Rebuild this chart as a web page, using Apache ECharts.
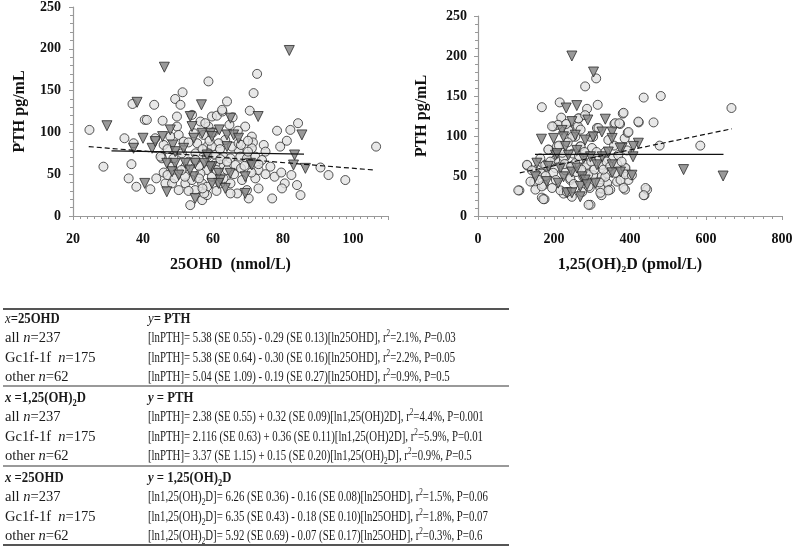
<!DOCTYPE html>
<html><head><meta charset="utf-8">
<script src="https://cdn.jsdelivr.net/npm/echarts@6/dist/echarts.min.js"></script>
<style>
html,body{margin:0;padding:0;background:#fff;}
#chart{position:absolute;left:0;top:0;width:797px;height:547px;}
#table{position:absolute;left:0;top:0;width:797px;height:547px;font-family:'Liberation Serif','Times New Roman',serif;color:#1a1a1a;pointer-events:none;}
.row{position:absolute;left:0;height:20px;line-height:20px;font-size:15px;white-space:nowrap;}
.c1{position:absolute;left:5px;transform:scaleX(0.97);transform-origin:0 50%;}
.c2{position:absolute;left:148px;transform:scaleX(0.72);transform-origin:0 50%;}
.hdr .c1{transform:scaleX(0.85);}
.hdr .c2{transform:scaleX(0.85);}
.rule{position:absolute;left:3px;width:506px;height:2px;}
sup,sub{font-size:10px;line-height:0;}
</style></head>
<body>
<div id="chart"></div>
<div id="table"></div>
<script>
// ---- Left panel: x = 25OHD (nmol/L), y = PTH (pg/mL)
const leftGc = [
[24.7,103],[28.7,59],[34.7,93],[35.9,45],[36.7,62],[37.3,87],[37,134],[38.1,35],[40.5,115],[41.1,115],[42.1,32],[43.2,133],[43.5,93],[43.8,45],[45.6,114],[45.9,85],[45.2,72],[45.9,52],[46.4,39],[49.2,140],[51.3,148],[50.7,133],[49.7,119],[49.7,107],[47.8,95],[50.2,97],[51.6,89],[48.7,69],[48.3,59],[51.1,75],[52.1,59],[54,121],[54.5,99],[56.4,113],[57.3,97],[58.7,107],[58.7,161],[59.7,119],[58.3,83],[58.3,71],[58.3,55],[48.3,39],[50.2,31],[52.1,39],[54,43],[53.5,13],[54.9,31],[56.9,19],[56.9,39],[56.4,51],[45.4,69],[45,71],
[72.6,170],[71.6,147],[64,137],[61.1,120],[62.7,125],[57.8,111],[70.5,126],[69.2,107],[65.6,118],[67.1,102],[64.7,109],[78.3,102],[82.1,103],[84.3,111],[81.1,90],[79.2,83],[74.5,85],[71.1,95],[71.4,88],[71.1,81],[67.3,79],[65.4,83],[63.5,91],[61.6,87],[59.7,83],[58.7,75],[60.7,73],[63,71],[65,69],[67.8,71],[69.7,69],[72.1,71],[74,67],[76.4,59],[77.6,47],[79.5,52],[80.5,39],[79.7,33],[82.4,49],[84,37],[85,25],[76.9,21],[90.7,58],[93,49],[97.8,43],[106.6,83],[62.1,61],[66.4,61],[73,55],[72.1,45],[73,33],[70.2,21],[66.9,27],[69.7,31],[68.3,43],[65,39],[62.1,39],[59.7,47],[58.3,35],[58.3,25],[67.3,87],
[62.6,127],[60.7,63],[62.1,68],[55,75],[53,65],[56,60],[64,55],[68,57],[70,77],[75,77],[52,47],[47,49],[57.5,27],[55.5,87],
[47,80],[49,45],[51,55],[53,88],[55,67],[56,45],[57,80],[59,90],[60,100],[61,55],[62,80],[63,45],[64,65],[66,50],[68,85],[69,60],[70,90],[71,52],[73,62],[75,50],[53,30],[57,33],[61,30],[65,27]
];
const leftOther = [
[29.7,108],[38.3,136],[37.3,81],[40,93],[40.5,39],[42.6,81],[43.5,89],[45.6,95],[46.1,178],[46.8,29],[46.8,63],[48.5,85],[49.2,77],[49.2,63],[48.3,53],[50.2,49],[51.6,81],[52.1,63],[53.5,119],[54,107],[54.5,93],[54.9,63],[54.5,47],[54.9,21],[53.4,55],[56.7,133],[56.9,99],[58.3,73],[59.7,59],[59.3,99],
[81.8,198],[72.9,119],[65,117],[61.8,103],[59.7,95],[64,97],[65.9,97],[67.3,93],[64,83],[85.4,97],[83.3,73],[83,61],[86.4,57],[59.2,59],[61.6,51],[64.9,51],[69.2,47],[70.7,63],[62.1,43],[61.6,39],[63.5,33],[69.2,27],[59.7,39],
[47.8,103],[57.5,63],[71.1,61]
];
const leftSolidX = [31, 86],   leftSolidY = [78, 74];
const leftDashX  = [24.5, 106], leftDashY  = [83, 55];

// ---- Right panel: x = 1,25(OH)2D (pmol/L), y = PTH (pg/mL)
const rightGc = [
[109,32],[130,63],[148,42],[155,58],[151,33],[168,53],[173,39],[168,136],[168,23],[175,21],[181,62],[186,83],[195,35],[199,112],[203,60],[208,87],[215,142],[219,123],[225,74],[225,28],[239,108],[243,45],[247,24],[250,78],[256,99],[263,112],[265,122],[269,87],[274,30],[282,162],[287,134],[283,60],[294,35],[296,14],[303,99],[311,172],[315,139],[313,110],[320,72],[325,49],[325,26],[327,34],[340,53],[340,41],[348,33],[355,72],[359,115],[366,43],[374,115],[381,128],[386,97],[387,60],[387,33],[394,104],[394,53],[396,45],[423,117],[436,148],[438,26],[445,33],[462,117],[478,88],[481,150],[585,88],[667,135],
[422,118],[383,129],[361,116],[372,116],[396,105],[211,114],[195,112],[264,122],[282,126],[317,110],[238,107],[248,99],[296,99],[343,95],[185,83],[164,72],[222,79],[270,87],[300,85],[335,80],[369,76],[392,82],[129,64],[142,57],[155,51],[138,43],[168,37],[177,64],[203,70],[198,54],[230,57],[243,47],[256,66],[286,64],[277,49],[303,51],[326,64],[335,49],[361,54],[375,45],[388,60],[388,52],[405,51],[217,32],[234,30],[291,37],[322,35],[343,32],[322,29],[383,35],[441,35],[436,26],[291,14],[106,32],[172,21],
[160,45],[178,50],[190,68],[205,45],[213,88],[228,65],[236,92],[245,62],[252,40],[258,55],[266,75],[272,58],[280,80],[290,52],[298,68],[306,58],[312,80],[320,42],[330,58],[338,68],[348,62],[358,88],[366,65],[378,68],[232,115],[270,108]
];
const rightOther = [
[247,200],[304,180],[232,135],[260,138],[289,120],[335,121],[167,96],[199,97],[221,107],[225,99],[247,118],[256,101],[303,99],[326,105],[353,105],[353,97],[422,91],[409,87],[379,85],[282,95],[230,87],[260,82],[204,76],[238,76],[296,74],[313,64],[353,64],[155,66],[185,62],[217,60],[247,55],[260,60],[225,49],[274,49],[405,51],[181,43],[211,41],[269,37],[282,45],[309,41],[234,29],[269,24],[247,29],[151,49],[353,54],[375,55],[541,58],[645,50],[208,78],[278,72],[327,74],[343,80],[374,85],[408,74],[287,39]
];
const rightSolidX = [150, 646], rightSolidY = [77, 77];
const rightDashX  = [110, 668], rightDashY  = [54, 109];

// ---- Axis / text
const yTicks = {min: 0, max: 250, interval: 50};
const leftXTicks = {min: 20, max: 110, interval: 20};
const rightXTicks = {min: 0, max: 800, interval: 200};
const yTitle = 'PTH pg/mL';
const leftXTitle = '25OHD  (nmol/L)';
const rightXTitle = '1,25(OH)\u2082D (pmol/L)';

// ---- Table rows: [col1, col2, header?]
const tableRows = [
 ['<i>x</i><b>=25OHD</b>', '<i>y</i><b>= PTH</b>', true],
 ['all <i>n</i>=237', '[lnPTH]= 5.38 (SE 0.55) - 0.29 (SE 0.13)[ln25OHD], r<sup>2</sup>=2.1%, <i>P</i>=0.03', false],
 ['Gc1f-1f&nbsp; <i>n</i>=175', '[lnPTH]= 5.38 (SE 0.64) - 0.30 (SE 0.16)[ln25OHD], r<sup>2</sup>=2.2%, P=0.05', false],
 ['other <i>n</i>=62', '[lnPTH]= 5.04 (SE 1.09) - 0.19 (SE 0.27)[ln25OHD], r<sup>2</sup>=0.9%, P=0.5', false],
 ['<b><i>x</i> =1,25(OH)<sub>2</sub>D</b>', '<b><i>y</i> = PTH</b>', true],
 ['all <i>n</i>=237', '[lnPTH]= 2.38 (SE 0.55) + 0.32 (SE 0.09)[ln1,25(OH)2D], r<sup>2</sup>=4.4%, P=0.001', false],
 ['Gc1f-1f&nbsp; <i>n</i>=175', '[lnPTH]= 2.116 (SE 0.63) + 0.36 (SE 0.11)[ln1,25(OH)2D], r<sup>2</sup>=5.9%, P=0.01', false],
 ['other <i>n</i>=62', '[lnPTH]= 3.37 (SE 1.15) + 0.15 (SE 0.20)[ln1,25(OH)<sub>2</sub>D], r<sup>2</sup>=0.9%, <i>P</i>=0.5', false],
 ['<b><i>x</i> =25OHD</b>', '<b><i>y</i> = 1,25(OH)<sub>2</sub>D</b>', true],
 ['all <i>n</i>=237', '[ln1,25(OH)<sub>2</sub>D]= 6.26 (SE 0.36) - 0.16 (SE 0.08)[ln25OHD], r<sup>2</sup>=1.5%, P=0.06', false],
 ['Gc1f-1f&nbsp; <i>n</i>=175', '[ln1,25(OH)<sub>2</sub>D]= 6.35 (SE 0.43) - 0.18 (SE 0.10)[ln25OHD], r<sup>2</sup>=1.8%, P=0.07', false],
 ['other <i>n</i>=62', '[ln1,25(OH)<sub>2</sub>D]= 5.92 (SE 0.69) - 0.07 (SE 0.17)[ln25OHD], r<sup>2</sup>=0.3%, P=0.6', false]
];
const rowCenters = [318,337,357,376, 397,416,436,455, 477,496,516,535];
const rules = [[309,'#555'],[386,'#999'],[466,'#999'],[545,'#555']];

(function buildTable(){
  const t = document.getElementById('table');
  let h = '';
  rules.forEach(r => { h += '<div class="rule" style="top:'+(r[0]-1)+'px;background:'+r[1]+'"></div>'; });
  tableRows.forEach((r,i) => {
    h += '<div class="row'+(r[2]?' hdr':'')+'" style="top:'+(rowCenters[i]-10)+'px"><span class="c1">'+r[0]+'</span><span class="c2">'+r[1]+'</span></div>';
  });
  t.innerHTML = h;
})();

const serif = "'Liberation Serif','Times New Roman',serif";
const axisCol = '#999';
function xAxisCfg(gi, t, name, split){
  return {gridIndex: gi, type:'value', min:t.min, max:t.max, interval:t.interval,
    name: name, nameLocation:'middle', nameGap: 41,
    nameTextStyle:{fontFamily:serif, fontWeight:'bold', fontSize:16, color:'#111'},
    axisLine:{lineStyle:{color:axisCol, width:1.2}},
    axisTick:{show:true, length:4, lineStyle:{color:axisCol}},
    minorTick:{show:true, splitNumber:split, length:3, lineStyle:{color:axisCol}},
    axisLabel:{fontFamily:serif, fontWeight:'bold', fontSize:14, color:'#111', margin:16, showMaxLabel: t.max % t.interval === 0},
    splitLine:{show:false}};
}
function yAxisCfg(gi, gap, margin){
  return {gridIndex: gi, type:'value', min:yTicks.min, max:yTicks.max, interval:yTicks.interval,
    name: yTitle, nameLocation:'middle', nameGap: gap, nameRotate: 90,
    nameTextStyle:{fontFamily:serif, fontWeight:'bold', fontSize:16, color:'#111'},
    axisLine:{show:true, lineStyle:{color:axisCol, width:1.2}},
    axisTick:{show:true, length:4, lineStyle:{color:axisCol}},
    minorTick:{show:true, splitNumber:5, length:3, lineStyle:{color:axisCol}},
    axisLabel:{fontFamily:serif, fontWeight:'bold', fontSize:14, color:'#111', margin:margin},
    splitLine:{show:false}};
}
const circleStyle = {color:'#e2e2e2', borderColor:'#2a2a2a', borderWidth:1};
const triStyle = {color:'#808080', borderColor:'#2a2a2a', borderWidth:1};
function scat(gi, data, isTri){
  return {type:'scatter', xAxisIndex:gi, yAxisIndex:gi, data:data,
    symbol: isTri ? 'triangle' : 'circle', symbolRotate: isTri ? 180 : 0,
    symbolSize: isTri ? 10 : 9, itemStyle: isTri ? triStyle : circleStyle, silent:true};
}
function line(gi, xs, ys, dashed){
  return {type:'line', xAxisIndex:gi, yAxisIndex:gi, data: xs.map((x,i)=>[x, ys[i]]),
    symbol:'none', silent:true, z:5,
    lineStyle:{color:'#111', width:1.2, type: dashed ? [5,3] : 'solid'}};
}

const chart = echarts.init(document.getElementById('chart'), null, {renderer:'canvas'});
chart.setOption({
  animation:false,
  backgroundColor:'#fff',
  grid:[{left:73, top:7, width:315, height:209}, {left:478, top:16, width:304, height:200}],
  xAxis:[xAxisCfg(0, leftXTicks, leftXTitle, 10), xAxisCfg(1, rightXTicks, rightXTitle, 8)],
  yAxis:[yAxisCfg(0, 45, 12), yAxisCfg(1, 48, 11)],
  series:[
    scat(0, leftGc, false), scat(0, leftOther, true),
    line(0, leftSolidX, leftSolidY, false), line(0, leftDashX, leftDashY, true),
    scat(1, rightGc, false), scat(1, rightOther, true),
    line(1, rightSolidX, rightSolidY, false), line(1, rightDashX, rightDashY, true)
  ]
});
</script>
</body></html>
